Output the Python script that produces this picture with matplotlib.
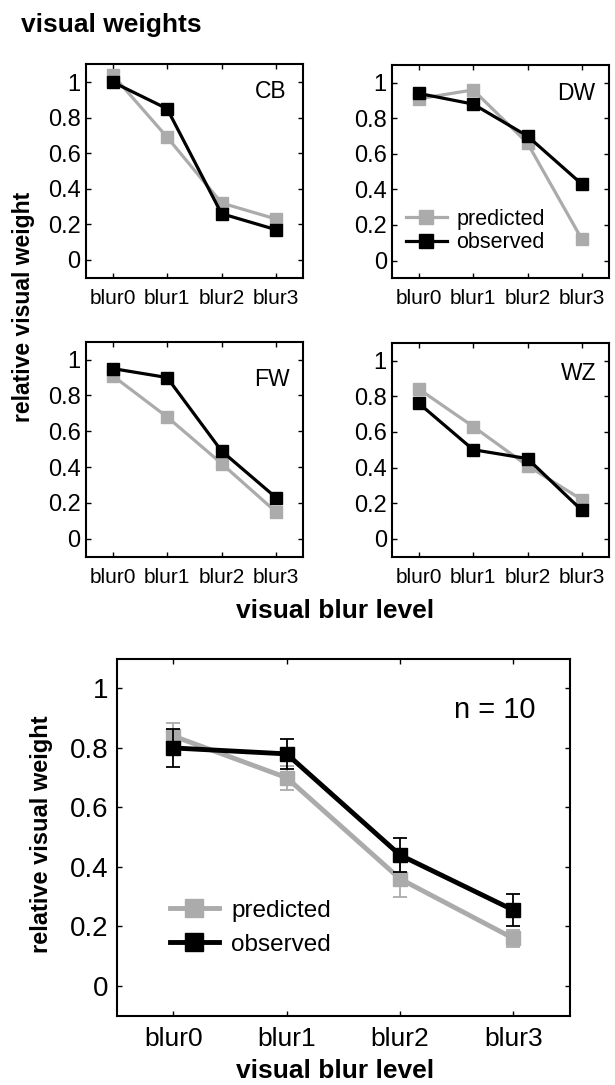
import matplotlib
matplotlib.use("Agg")
import matplotlib.pyplot as plt

plt.rcParams['font.family'] = ['Liberation Sans', 'DejaVu Sans']

blur_levels = ['blur0', 'blur1', 'blur2', 'blur3']
subjects = ['CB', 'DW', 'FW', 'WZ']

cb_pred = [1.04, 0.69, 0.32, 0.23]
cb_obs = [1.00, 0.85, 0.26, 0.17]
dw_pred = [0.91, 0.96, 0.66, 0.12]
dw_obs = [0.94, 0.88, 0.70, 0.43]
fw_pred = [0.91, 0.68, 0.42, 0.15]
fw_obs = [0.95, 0.90, 0.49, 0.23]
wz_pred = [0.84, 0.63, 0.41, 0.22]
wz_obs = [0.76, 0.50, 0.45, 0.16]

mean_pred = [0.84, 0.70, 0.36, 0.16]
mean_pred_err = [0.043, 0.040, 0.060, 0.028]
mean_obs = [0.80, 0.78, 0.44, 0.255]
mean_obs_err = [0.063, 0.050, 0.058, 0.053]

yticks = [0, 0.2, 0.4, 0.6, 0.8, 1]
ytick_labels = ['0', '0.2', '0.4', '0.6', '0.8', '1']

GRAY = '#ababab'
BLACK = '#000000'
W, H = 615, 1085


def px_axes(fig, left, top, right, bottom):
    return fig.add_axes([left / W, 1 - bottom / H, (right - left) / W, (bottom - top) / H])


def style_axes(ax, xsize, ysize, xpad, ypad):
    ax.set_xlim(-0.5, 3.5)
    ax.set_ylim(-0.1, 1.1)
    ax.set_xticks(range(len(blur_levels)))
    ax.set_xticklabels(blur_levels, fontsize=xsize)
    ax.set_yticks(yticks)
    ax.set_yticklabels(ytick_labels, fontsize=ysize)
    ax.tick_params(direction='in', top=True, right=True, length=3.5, width=1)
    ax.tick_params(axis='x', pad=xpad)
    ax.tick_params(axis='y', pad=ypad)
    for s in ax.spines.values():
        s.set_linewidth(1.5)


fig = plt.figure(figsize=(W / 100, H / 100), dpi=100)

small = [
    ('CB', cb_pred, cb_obs, (85.5, 64.3, 303.2, 277.7), (0.924, 0.872)),
    ('DW', dw_pred, dw_obs, (391.7, 65.0, 609.0, 278.3), (0.936, 0.865)),
    ('FW', fw_pred, fw_obs, (85.5, 341.7, 303.2, 556.7), (0.939, 0.822)),
    ('WZ', wz_pred, wz_obs, (391.7, 342.7, 609.0, 556.7), (0.944, 0.857)),
]

for name, pred, obs, box, lab in small:
    ax = px_axes(fig, *box)
    x = range(len(blur_levels))
    ax.plot(x, pred, color=GRAY, lw=2.3, marker='s', ms=9, label='predicted')
    ax.plot(x, obs, color=BLACK, lw=2.3, marker='s', ms=9, label='observed')
    style_axes(ax, 15, 17, 8, 3.5)
    ax.text(lab[0], lab[1], name, transform=ax.transAxes, ha='right', va='center', fontsize=16.5)
    if name == 'DW':
        ax.legend(loc='center left', bbox_to_anchor=(0.065, 0.222), frameon=False,
                  fontsize=15.5, handlelength=1.9, handletextpad=0.45, labelspacing=0.12,
                  borderpad=0, borderaxespad=0, numpoints=1, markerscale=1.1)

# pooled panel
ax = px_axes(fig, 116.7, 658.7, 570.0, 1015.7)
x = list(range(len(blur_levels)))
ax.errorbar(x, mean_pred, yerr=mean_pred_err, fmt='none', ecolor=GRAY,
            elinewidth=1.3, capsize=5, capthick=1.3)
ax.plot(x, mean_pred, color=GRAY, lw=3.5, marker='s', ms=10, label='predicted')
ax.errorbar(x, mean_obs, yerr=mean_obs_err, fmt='none', ecolor=BLACK,
            elinewidth=1.3, capsize=5, capthick=1.3)
ax.plot(x, mean_obs, color=BLACK, lw=3.5, marker='s', ms=10, label='observed')
style_axes(ax, 19, 20, 8, 6)
ax.text(0.923, 0.856, 'n = 10', transform=ax.transAxes, ha='right', va='center', fontsize=21)
ax.legend(loc='center left', bbox_to_anchor=(0.118, 0.246), frameon=False,
          fontsize=17.5, handlelength=2.0, handletextpad=0.5, labelspacing=0.5,
          borderpad=0, borderaxespad=0, numpoints=1, markerscale=1.35)

fig.text(20.7 / W, 1 - 25 / H, 'visual weights', fontsize=19, fontweight='bold', va='center', ha='left')
fig.text(24 / W, 1 - 306.5 / H, 'relative visual weight', fontsize=16.5, fontweight='bold',
         rotation=90, ha='center', va='center')
fig.text(335 / W, 1 - 611 / H, 'visual blur level', fontsize=19, fontweight='bold', ha='center', va='center')
fig.text(41.7 / W, 1 - 834 / H, 'relative visual weight', fontsize=17, fontweight='bold',
         rotation=90, ha='center', va='center')
fig.text(335 / W, 1 - 1071 / H, 'visual blur level', fontsize=19, fontweight='bold', ha='center', va='center')

fig.savefig('out.png', dpi=100)
